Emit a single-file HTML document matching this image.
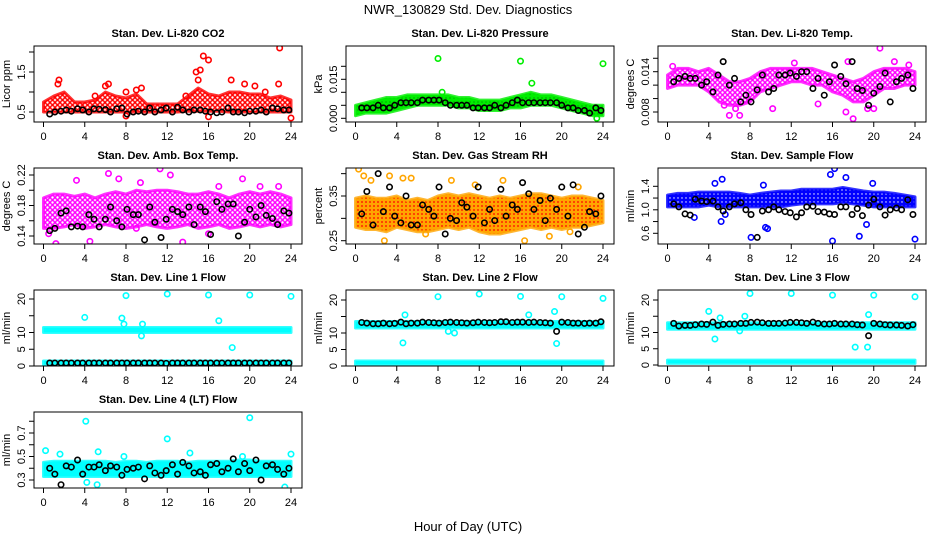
<!DOCTYPE html>
<html><head><meta charset="utf-8"><style>
html,body{margin:0;padding:0;background:#fff;}
svg{display:block;font-family:"Liberation Sans",sans-serif;}
</style></head><body>
<svg id="c" width="936" height="540" viewBox="0 0 936 540" xmlns="http://www.w3.org/2000/svg">
<defs>
<pattern id="pat-red" width="5" height="5" patternUnits="userSpaceOnUse"><rect width="5" height="5" fill="#fff"/><circle cx="2.5" cy="2.5" r="1.9" fill="none" stroke="#ff0000" stroke-width="1.4"/></pattern>
<pattern id="pat-mag" width="5" height="5" patternUnits="userSpaceOnUse"><rect width="5" height="5" fill="#fff"/><circle cx="2.5" cy="2.5" r="1.9" fill="none" stroke="#ff00ff" stroke-width="1.4"/></pattern>
<pattern id="pat-blue" width="4" height="4" patternUnits="userSpaceOnUse"><rect width="4" height="4" fill="#0000ff"/><circle cx="2" cy="2" r="0.7" fill="#fff"/></pattern>
<pattern id="pat-orange" width="4" height="4" patternUnits="userSpaceOnUse"><rect width="4" height="4" fill="#ffa500"/><circle cx="2" cy="2" r="0.9" fill="#ff0000"/></pattern>
<pattern id="pat-green" width="4" height="4" patternUnits="userSpaceOnUse"><rect width="4" height="4" fill="#00ee00"/><circle cx="2" cy="2" r="0.6" fill="#007700"/></pattern>
</defs>
<text x="468" y="14" text-anchor="middle" font-size="13">NWR_130829  Std. Dev. Diagnostics</text>
<text x="468" y="531" text-anchor="middle" font-size="13">Hour of Day (UTC)</text>
</svg>
<script>
const hours=[0,1,2,3,4,5,6,7,8,9,10,11,12,13,14,15,16,17,18,19,20,21,22,23,24];
const blackTimes=[0.6,1.1,1.7,2.2,2.7,3.3,3.8,4.4,4.9,5.4,6.0,6.5,7.1,7.6,8.1,8.7,9.2,9.8,10.3,10.8,11.4,11.9,12.5,13.0,13.5,14.1,14.6,15.2,15.7,16.2,16.8,17.3,17.9,18.4,18.9,19.5,20.0,20.6,21.1,21.6,22.2,22.7,23.3,23.8];
const xTicks=[0,4,8,12,16,20,24];

// Panel 1 CO2
const co2Lo=[0.5,0.5,0.5,0.5,0.5,0.5,0.5,0.5,0.5,0.5,0.5,0.5,0.5,0.5,0.52,0.52,0.52,0.52,0.5,0.5,0.5,0.5,0.5,0.5,0.5];
const co2Hi=[0.75,0.9,1.0,0.75,0.75,0.8,1.0,0.9,0.85,0.95,0.7,0.7,0.7,0.7,0.9,1.1,0.95,0.9,1.0,1.0,0.95,0.95,0.85,0.9,0.8];
const co2Out=[[1.5,1.3],[1.4,1.2],[6,1.15],[6.3,1.2],[8,1.0],[9,1.05],[9.5,1.1],[14.8,1.5],[15.2,1.55],[15.5,1.9],[16,1.8],[15,1.3],[18.2,1.3],[19.5,1.2],[20.5,1.15],[22.8,1.2],[22.9,2.1],[24,0.35],[16,0.38],[8,0.4],[5,0.9],[13.8,0.9],[21.5,1.0]];
const co2Black=[0.45,0.5,0.52,0.55,0.52,0.58,0.55,0.5,0.58,0.57,0.56,0.5,0.58,0.6,0.45,0.5,0.52,0.5,0.6,0.5,0.55,0.6,0.5,0.62,0.55,0.5,0.55,0.55,0.52,0.5,0.48,0.5,0.6,0.5,0.5,0.48,0.52,0.52,0.55,0.5,0.6,0.58,0.55,0.55];
// Panel 2 Pressure
const presLo=[0.001,0.002,0.002,0.002,0.003,0.004,0.005,0.005,0.005,0.005,0.004,0.004,0.003,0.003,0.003,0.004,0.004,0.005,0.005,0.005,0.004,0.003,0.002,0.001,0.001];
const presHi=[0.005,0.006,0.007,0.008,0.008,0.009,0.009,0.009,0.009,0.009,0.008,0.008,0.007,0.007,0.007,0.008,0.009,0.010,0.009,0.009,0.008,0.007,0.006,0.005,0.005];
const presOut=[[8,0.023],[16,0.022],[17.1,0.0135],[24,0.021],[8.4,0.010],[23.4,0.0]];
const presBlack=[0.004,0.004,0.004,0.005,0.004,0.004,0.005,0.006,0.006,0.006,0.006,0.007,0.007,0.007,0.007,0.006,0.005,0.005,0.005,0.005,0.004,0.004,0.004,0.004,0.005,0.004,0.005,0.006,0.007,0.006,0.006,0.006,0.006,0.006,0.006,0.006,0.005,0.004,0.004,0.003,0.003,0.002,0.004,0.003];
// Panel 3 Li-820 Temp
const ltLo=[0.0115,0.012,0.012,0.012,0.011,0.0095,0.009,0.009,0.0095,0.011,0.0115,0.012,0.0125,0.0125,0.012,0.012,0.011,0.0105,0.0095,0.0095,0.0105,0.0115,0.0115,0.012,0.012];
const ltHi=[0.0135,0.0145,0.0145,0.014,0.0145,0.0135,0.0125,0.0125,0.013,0.014,0.0145,0.0145,0.0145,0.0145,0.0145,0.014,0.0135,0.013,0.0125,0.013,0.014,0.0145,0.0145,0.0145,0.014];
const ltOut=[[20.6,0.0175],[17.5,0.0155],[6,0.0075],[7,0.0075],[18,0.007],[10.2,0.0085],[17.3,0.008],[14.6,0.0092],[22,0.0155],[23.4,0.015],[19.4,0.0085],[6.6,0.0085],[5.5,0.009],[20,0.0085],[0.5,0.0148],[12.3,0.0153]];
const ltBlack=[0.0125,0.013,0.0133,0.013,0.013,0.012,0.0125,0.011,0.0135,0.0155,0.012,0.013,0.0095,0.0105,0.0095,0.0113,0.0135,0.011,0.0115,0.0135,0.0135,0.0138,0.0133,0.014,0.014,0.0115,0.013,0.0105,0.0125,0.015,0.0133,0.0122,0.0155,0.0115,0.0112,0.009,0.0108,0.0118,0.0138,0.0095,0.0125,0.013,0.0135,0.0115];
// Panel 4 Amb Box Temp
const abLo=[0.15,0.15,0.152,0.155,0.15,0.152,0.155,0.152,0.15,0.152,0.155,0.152,0.15,0.152,0.155,0.15,0.152,0.155,0.15,0.152,0.155,0.152,0.155,0.152,0.155];
const abHi=[0.19,0.195,0.195,0.192,0.195,0.19,0.195,0.198,0.195,0.2,0.198,0.2,0.2,0.198,0.195,0.195,0.198,0.195,0.19,0.195,0.198,0.195,0.198,0.195,0.19];
const abOut=[[0.5,0.143],[1.2,0.13],[3.2,0.213],[4.5,0.133],[6.3,0.222],[7.3,0.215],[11.3,0.228],[12.3,0.22],[13.5,0.132],[19.3,0.215],[16,0.143],[9.4,0.21],[22.8,0.205],[9,0.15],[17,0.205],[21,0.205]];
const abBlack=[0.147,0.15,0.17,0.173,0.152,0.153,0.152,0.168,0.162,0.152,0.162,0.178,0.16,0.152,0.175,0.168,0.168,0.135,0.178,0.158,0.138,0.162,0.175,0.172,0.168,0.178,0.155,0.178,0.172,0.142,0.185,0.175,0.182,0.182,0.14,0.158,0.175,0.165,0.18,0.167,0.163,0.155,0.173,0.17];
// Panel 5 Gas Stream RH
const rhLo=[0.28,0.275,0.275,0.27,0.28,0.275,0.27,0.27,0.275,0.28,0.275,0.28,0.27,0.265,0.265,0.27,0.275,0.28,0.275,0.28,0.275,0.28,0.28,0.285,0.29];
const rhHi=[0.345,0.35,0.345,0.345,0.35,0.34,0.345,0.34,0.35,0.355,0.35,0.355,0.35,0.345,0.35,0.345,0.35,0.355,0.355,0.35,0.345,0.35,0.35,0.345,0.34];
const rhOut=[[0.3,0.41],[0.8,0.395],[2.8,0.25],[3.3,0.395],[4.6,0.39],[9.3,0.385],[14.3,0.385],[16.4,0.25],[18.8,0.26],[20.8,0.27],[1.5,0.385],[5.4,0.39],[11.6,0.375],[21.6,0.37],[6.8,0.265]];
const rhBlack=[0.31,0.36,0.285,0.4,0.315,0.37,0.305,0.29,0.35,0.285,0.285,0.33,0.32,0.305,0.37,0.265,0.3,0.295,0.335,0.325,0.305,0.37,0.29,0.32,0.295,0.365,0.305,0.33,0.32,0.38,0.355,0.32,0.34,0.295,0.345,0.32,0.37,0.305,0.375,0.265,0.28,0.315,0.31,0.35];
// Panel 6 Sample Flow
const sfLo=[1.05,1.05,1.05,1.05,1.08,1.05,1.05,1.05,1.05,1.05,1.05,1.05,1.08,1.1,1.1,1.1,1.1,1.12,1.1,1.08,1.05,1.05,1.05,1.05,1.05];
const sfHi=[1.25,1.28,1.28,1.3,1.3,1.3,1.3,1.28,1.25,1.28,1.3,1.32,1.32,1.35,1.35,1.35,1.35,1.38,1.35,1.32,1.3,1.3,1.28,1.25,1.22];
const sfOut=[[5.3,1.52],[4.6,1.45],[9.3,1.42],[9.5,0.7],[9.7,0.68],[16.2,1.7],[16,0.47],[18.6,0.55],[19.3,0.75],[24,0.5],[8.1,0.53],[5.2,0.8],[2.6,0.87],[17.3,1.55],[19.9,1.45],[15.8,1.6],[5.6,0.92]];
const sfBlack=[1.1,1.05,0.93,0.91,1.18,1.15,1.14,1.15,1.05,0.98,1.05,1.1,1.12,1.0,0.92,0.53,0.98,1.0,1.05,1.0,0.97,0.95,0.88,0.95,1.05,1.06,0.97,0.96,0.93,0.92,1.05,1.05,0.92,1.02,0.9,1.08,1.18,1.05,0.91,1.0,1.03,1.0,1.17,0.92];
// Panels 7-9 Line flows
const lowLo=[0.5,0.5,0.5,0.5,0.5,0.5,0.5,0.5,0.5,0.5,0.5,0.5,0.5,0.5,0.5,0.5,0.5,0.5,0.5,0.5,0.5,0.5,0.5,0.5,0.5];
const lowHi=[1.5,1.5,1.5,1.5,1.5,1.5,1.5,1.5,1.5,1.5,1.5,1.5,1.5,1.5,1.5,1.5,1.5,1.5,1.5,1.5,1.5,1.5,1.5,1.5,1.5];
const l1Lo=[10,10,10,10,10,10,10,10,10,10,10,10,10,10,10,10,10,10,10,10,10,10,10,10,10];
const l1Hi=[11.5,11.5,11.5,11.5,11.5,11.5,11.5,11.5,11.5,11.5,11.5,11.5,11.5,11.5,11.5,11.5,11.5,11.5,11.5,11.5,11.5,11.5,11.5,11.5,11.5];
const l1Out=[[8,21],[12,21.5],[16,21.2],[20,21.2],[24,20.8],[4,14.5],[7.6,14.3],[17,13.5],[7.8,12.5],[9.6,12.5],[9.5,9],[18.3,5.5]];
const l1Black=[0.9,0.9,0.9,0.9,0.9,0.9,0.9,0.9,0.9,0.9,0.9,0.9,0.9,0.9,0.9,0.9,0.9,0.9,0.9,0.9,0.9,0.8,0.9,0.9,0.9,0.9,0.9,0.9,0.9,0.9,0.9,0.9,0.9,0.9,0.9,0.9,0.9,0.9,0.9,0.9,0.9,0.9,0.9,0.9];
const l2Lo=[11.5,11.5,11.5,11.5,11.5,11.5,11.5,11.5,11.5,11.5,11.5,11.5,11.5,11.5,11.5,11.5,11.5,11.5,11.5,11.5,11.5,11.5,11.5,11.5,11.5];
const l2Hi=[13.5,13.5,13.5,13.5,13.5,13.5,13.5,13.5,13.5,13.5,13.5,13.5,13.5,13.5,13.5,13.5,13.5,13.5,13.5,13.5,13.5,13.5,13.5,13.5,13.5];
const l2Out=[[8,21],[12,21.8],[16,21.1],[20,21],[24,20.5],[4.6,7],[19.5,6.8],[4.8,15.5],[19.3,16.5],[16.8,15.5],[9,10.5],[9.6,10]];
const l2Black=[13.2,13,12.8,12.8,13,12.8,12.9,13.3,12.8,13,13,13.3,13.2,13.1,13,13.2,13.3,13.2,13.1,13,13.1,13.3,13.2,13.1,13.2,13.4,13.4,13.2,13.3,13.3,13.2,13.3,13.2,13.1,13,10.5,13.3,13.2,13,13,12.9,13,13,13.4];
const l3Lo=[11,11,11,11,11,11,11,11,11,11,11,11,11,11,11,11,11,11,11,11,11,11,11,11,11];
const l3Hi=[13,13,13,13,13,13,13,13,13,13,13,13,13,13,13,13,13,13,13,13,13,13,13,13,13];
const l3Out=[[8,22],[12,22],[16,21.5],[20,21.5],[24,21],[4,16.5],[4.6,8],[5.1,14.5],[7.5,15],[7,10.5],[18.2,5.5],[19.4,5.5],[19.5,15.5]];
const l3Black=[12.8,12,12.2,12.2,12.4,12.6,12.5,13.2,12.2,12.5,12.6,12.6,12.8,12.8,13.1,13.2,13,12.8,12.8,12.8,12.9,13.1,13.1,13,12.8,13.2,12.8,12.6,12.6,12.8,12.6,12.6,12.6,12.4,12.3,9,12.8,12.6,12.4,12.3,12.3,12.2,12,12.4];
// Panel 10 Line 4
const l4Lo=[0.33,0.33,0.33,0.33,0.33,0.33,0.33,0.33,0.33,0.33,0.33,0.33,0.33,0.33,0.33,0.33,0.33,0.33,0.33,0.33,0.33,0.33,0.33,0.33,0.33];
const l4Hi=[0.45,0.46,0.46,0.46,0.46,0.46,0.46,0.45,0.46,0.46,0.45,0.46,0.46,0.46,0.45,0.46,0.46,0.46,0.46,0.47,0.47,0.46,0.46,0.46,0.46];
const l4Out=[[0.2,0.55],[1.6,0.52],[4.1,0.8],[5.3,0.54],[12,0.65],[20,0.83],[14.2,0.53],[24,0.52],[4.2,0.28],[5.2,0.26],[23.4,0.24],[7.8,0.5],[19.3,0.5]];
const l4Black=[0.4,0.35,0.26,0.42,0.41,0.47,0.35,0.41,0.41,0.43,0.38,0.42,0.41,0.34,0.39,0.4,0.41,0.31,0.42,0.36,0.34,0.38,0.43,0.35,0.45,0.42,0.36,0.37,0.34,0.43,0.44,0.37,0.4,0.48,0.37,0.44,0.38,0.47,0.3,0.42,0.43,0.39,0.35,0.4];

const NS='http://www.w3.org/2000/svg';
const svg=document.getElementById('c');
function mk(tag,attrs,parent){const e=document.createElementNS(NS,tag);for(const k in attrs)e.setAttribute(k,attrs[k]);(parent||svg).appendChild(e);return e;}

const panels=[
 {t:'Stan. Dev. Li-820 CO2',yl:'Licor ppm',col:0,row:0,c:'#ff0000',fill:'url(#pat-red)',r:[0.5,112,1.5,72],ticks:[0.5,1.0,1.5,2.0],labs:['0.5','1.5'],labv:[0.5,1.5],bands:[[co2Lo,co2Hi]],out:co2Out,blk:co2Black},
 {t:'Stan. Dev. Li-820 Pressure',yl:'kPa',col:1,row:0,c:'#00ee00',fill:'url(#pat-green)',r:[0,118.3,0.015,79.3],ticks:[0,0.005,0.01,0.015,0.02],labs:['0.000','0.015'],labv:[0,0.015],bands:[[presLo,presHi]],out:presOut,blk:presBlack},
 {t:'Stan. Dev. Li-820 Temp.',yl:'degrees C',col:2,row:0,c:'#ff00ff',fill:'url(#pat-mag)',r:[0.008,112,0.014,71.7],ticks:[0.008,0.010,0.012,0.014,0.016],labs:['0.008','0.014'],labv:[0.008,0.014],bands:[[ltLo,ltHi]],out:ltOut,blk:ltBlack},
 {t:'Stan. Dev. Amb. Box Temp.',yl:'degrees C',col:0,row:1,c:'#ff00ff',fill:'url(#pat-mag)',r:[0.14,236,0.22,175],ticks:[0.14,0.16,0.18,0.20,0.22],labs:['0.14','0.18','0.22'],labv:[0.14,0.18,0.22],bands:[[abLo,abHi]],out:abOut,blk:abBlack},
 {t:'Stan. Dev. Gas Stream RH',yl:'percent',col:1,row:1,c:'#ffa500',fill:'url(#pat-orange)',r:[0.25,240.7,0.35,196],ticks:[0.25,0.30,0.35,0.40],labs:['0.25','0.35'],labv:[0.25,0.35],bands:[[rhLo,rhHi]],out:rhOut,blk:rhBlack},
 {t:'Stan. Dev. Sample Flow',yl:'ml/min',col:2,row:1,c:'#0000ff',fill:'url(#pat-blue)',r:[0.6,233.3,1.4,186.3],ticks:[0.6,0.8,1.0,1.2,1.4],labs:['0.6','1.0','1.4'],labv:[0.6,1.0,1.4],bands:[[sfLo,sfHi]],out:sfOut,blk:sfBlack},
 {t:'Stan. Dev. Line 1 Flow',yl:'ml/min',col:0,row:2,c:'#00ffff',fill:'#00ffff',r:[0,366,20,299],ticks:[0,5,10,15,20],labs:['0','5','10','20'],labv:[0,5,10,20],bands:[[l1Lo,l1Hi],[lowLo,lowHi]],out:l1Out,blk:l1Black},
 {t:'Stan. Dev. Line 2 Flow',yl:'ml/min',col:1,row:2,c:'#00ffff',fill:'#00ffff',r:[0,366,20,300],ticks:[0,5,10,15,20],labs:['0','5','10','20'],labv:[0,5,10,20],bands:[[l2Lo,l2Hi],[lowLo,lowHi]],out:l2Out,blk:l2Black},
 {t:'Stan. Dev. Line 3 Flow',yl:'ml/min',col:2,row:2,c:'#00ffff',fill:'#00ffff',r:[0,365,20,300],ticks:[0,5,10,15,20],labs:['0','5','10','20'],labv:[0,5,10,20],bands:[[l3Lo,l3Hi],[lowLo,lowHi]],out:l3Out,blk:l3Black},
 {t:'Stan. Dev. Line 4 (LT) Flow',yl:'ml/min',col:0,row:3,c:'#00ffff',fill:'#00ffff',r:[0.3,480,0.7,433],ticks:[0.3,0.4,0.5,0.6,0.7,0.8],labs:['0.3','0.5','0.7'],labv:[0.3,0.5,0.7],bands:[[l4Lo,l4Hi]],out:l4Out,blk:l4Black}
];
const colL=[34,346,658], rowT=[46,168,290,412], W=268, H=76;

panels.forEach((p,i)=>{
 const L=colL[p.col], T=rowT[p.row], B=T+H, R=L+W;
 const xs=v=>L+9.5+v*(247.5/24);
 const ys=v=>p.r[1]+(v-p.r[0])*(p.r[3]-p.r[1])/(p.r[2]-p.r[0]);
 const g=mk('g',{});
 
 
 const cp=mk('clipPath',{id:'cp'+i},g);mk('rect',{x:L,y:T,width:W,height:H},cp);
 const t=mk('text',{x:L+W/2,y:T-9,'text-anchor':'middle','font-size':'11','font-weight':'bold'},g);t.textContent=p.t;
 
 
 const plot=mk('g',{'clip-path':'url(#cp'+i+')'},g);
 p.bands.forEach(b=>{
  const pts=hours.map((h,k)=>xs(h)+','+ys(b[1][k])).concat(hours.slice().reverse().map((h,k)=>xs(h)+','+ys(b[0][hours.length-1-k])));
  const pg=mk('polygon',{points:pts.join(' '),fill:p.fill,stroke:p.c,'stroke-width':3,'stroke-opacity':0.8,'stroke-linejoin':'round'},plot);
  
  
 });
 p.out.forEach(o=>{
  const c=mk('circle',{cx:xs(o[0]),cy:ys(o[1]),r:2.7,fill:'none',stroke:p.c,'stroke-width':1.6},plot);
  
  
 });
 p.blk.forEach((v,k)=>{
  const c=mk('circle',{cx:xs(blackTimes[k]),cy:ys(v),r:2.7,fill:'none',stroke:'#000','stroke-width':1.6},plot);
  
  
 });
 const box=mk('rect',{x:L,y:T,width:W,height:H,fill:'none',stroke:'#000','stroke-width':1},g);
 
 
 xTicks.forEach(v=>{
  mk('line',{x1:xs(v),x2:xs(v),y1:B,y2:B+5,stroke:'#000'},g);
  const tx=mk('text',{x:xs(v),y:B+18,'text-anchor':'middle','font-size':'11'},g);tx.textContent=v;
  
  
 });
 p.ticks.forEach(v=>{mk('line',{x1:L-5,x2:L,y1:ys(v),y2:ys(v),stroke:'#000'},g);});
 p.labv.forEach((v,k)=>{
  const tx=mk('text',{x:L-9,y:ys(v),'text-anchor':'middle','font-size':'11',transform:'rotate(-90 '+(L-9)+' '+ys(v)+')'},g);tx.textContent=p.labs[k];
  
  
 });
 const yl=mk('text',{x:L-24,y:T+H/2,'text-anchor':'middle','font-size':'11',transform:'rotate(-90 '+(L-24)+' '+(T+H/2)+')'},g);yl.textContent=p.yl;
 
 
});
</script>
</body></html>
